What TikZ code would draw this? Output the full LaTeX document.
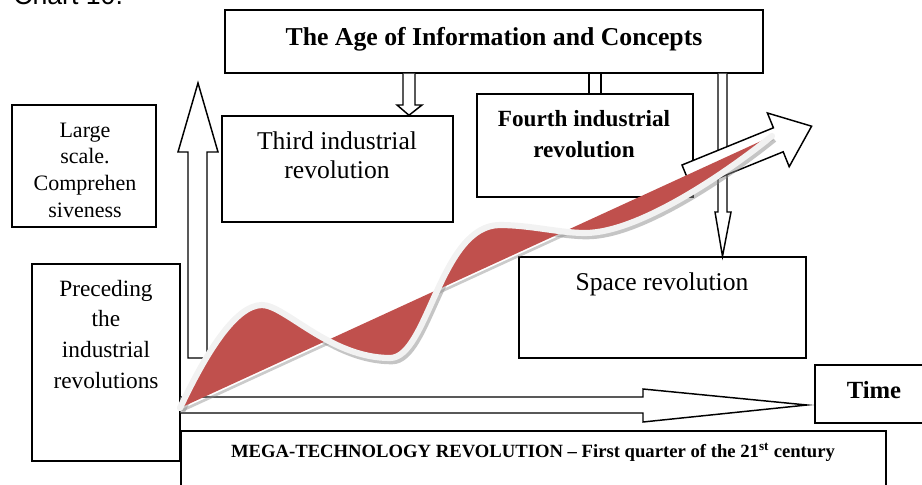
\documentclass[tikz,border=0pt]{standalone}
\usepackage{fontspec}
\setmainfont{Liberation Serif}
\newfontfamily\chartfont{Liberation Sans}
\usetikzlibrary{fit,calc}
\definecolor{redfill}{HTML}{C0504D}
\definecolor{wavewhite}{HTML}{F2F2F2}
\begin{document}
\begin{tikzpicture}[x=0.75pt,y=-0.75pt,
  box/.style={draw=black, line width=1.1pt, inner sep=0pt, fill=white},
  lbl/.style={inner sep=0pt, align=center},
  conn/.style={draw=black, line width=1.1pt},
  blockarrow/.style={draw=black, line width=1.1pt, fill=white, line join=miter},
  waveshadow/.style={draw=black!45, opacity=.5, line width=5pt},
  wavestroke/.style={draw=wavewhite, line width=4.6pt, line cap=round},
]
\useasboundingbox (0,0) rectangle (922,485);

% caption (cut off at the top)
\node[anchor=base west, inner sep=0pt, font=\chartfont\fontsize{20}{24}\selectfont] (chart) at (13,5) {Chart 10.};

% boxes
\node[box, fit={(225,10) (763,73)}] (age) {};
\node[box, fit={(222,116) (453,222)}] (third) {};
\node[box, fit={(477,94) (693,197)}] (fourth) {};
\node[box, fit={(519,257) (806,358)}] (space) {};
\node[box, fit={(12,105) (156,227)}] (large) {};
\node[box, fit={(32,264) (180,461)}] (prec) {};
\node[box, fit={(815,365) (940,423)}] (time) {};
\node[box, fit={(181,431) (886,500)}] (mega) {};

% texts
\node[lbl, anchor=base, font=\fontsize{19.3}{23}\selectfont\bfseries] (agetxt) at (494,46) {The Age of Information and Concepts};
\node[lbl, anchor=north, font=\fontsize{19.2}{21.75}\selectfont] (thirdtxt) at (337,131.5) {Third industrial\\revolution};
\node[lbl, anchor=north, font=\fontsize{17.4}{23.25}\selectfont\bfseries] (fourthtxt) at (584,110.3) {Fourth industrial\\revolution};
\node[lbl, anchor=base, font=\fontsize{19.2}{23}\selectfont] (spacetxt) at (662,290) {Space revolution};
\node[lbl, anchor=north, font=\fontsize{17.5}{22.9}\selectfont] (prectxt) at (106,280) {Preceding\\the\\industrial\\revolutions};
\node[lbl, anchor=north, font=\fontsize{16.5}{20}\selectfont] (largetxt) at (85,122.4) {Large\\scale.\\Comprehen\\siveness};
\node[lbl, anchor=base, font=\fontsize{18.5}{22}\selectfont\bfseries] (timetxt) at (874,398) {Time};
\node[lbl, anchor=base, font=\fontsize{14}{17}\selectfont\bfseries] (megatxt) at (533,457) {MEGA-TECHNOLOGY REVOLUTION – First quarter of the 21\textsuperscript{st} century};

% age -> third (hollow arrow)
\draw[blockarrow] (age.south -| 403,0) -- (403,105) -- (397,105) -- (third.north -| 409,0) -- (422,105) -- (415,105) -- (age.south -| 415,0);
% age -> fourth (double line)
\draw[conn] (age.south -| 589,0) -- (fourth.north -| 589,0);
\draw[conn] (age.south -| 601,0) -- (fourth.north -| 601,0);
% age -> space (long thin hollow arrow)
\draw[blockarrow] (age.south -| 718,0) -- (718,212) -- (715,212) -- (space.north -| 722.5,0) -- (731,212) -- (727,212) -- (age.south -| 727,0);

% upward hollow arrow
\coordinate (uptip) at (198,83);
\draw[blockarrow] (188,358) -- (188,152) -- (178,152) -- (uptip) -- (218,152) -- (207,152) -- (207,358) -- cycle;

% time arrow
\coordinate (timetip) at (807,405);
\draw[blockarrow] (prec.east |- 0,397) -- (643,397) -- (643,389) -- (timetip) -- (643,422) -- (643,413) -- (prec.east |- 0,413);

% big hollow arrow (upper right)
\coordinate (bigtip) at (811.6,126.2);
\draw[blockarrow] (682,165) -- (773.4,127.8) -- (767.4,113) -- (bigtip) -- (789.2,166.7) -- (783.2,151.8) -- (691.8,189) -- cycle;

% red wave
\coordinate (wA) at (180,408);
\coordinate (wB) at (772,136);
\draw[draw=black!45, opacity=.45, line width=2pt] ($(wA)+(1,3)$) -- ($(wB)+(1,3)$);
\draw[waveshadow] ($(wA)+(2,3)$) .. controls (207,358) and (237,308) .. (264,308) .. controls (287,308) and (332,361) .. (392,361) .. controls (430,361) and (442,228) .. (502,228) .. controls (532,228) and (562,236) .. (587,236) .. controls (642,236) and (732,173) .. ($(wB)+(2,3)$);
\fill[redfill] (wA) .. controls (205,355) and (235,305) .. (262,305) .. controls (285,305) and (330,358) .. (390,358) .. controls (428,358) and (440,225) .. (500,225) .. controls (530,225) and (560,233) .. (585,233) .. controls (640,233) and (730,170) .. (wB) -- cycle;
\draw[wavestroke] (wA) .. controls (205,355) and (235,305) .. (262,305) .. controls (285,305) and (330,358) .. (390,358) .. controls (428,358) and (440,225) .. (500,225) .. controls (530,225) and (560,233) .. (585,233) .. controls (640,233) and (730,170) .. (wB);
\end{tikzpicture}
\end{document}
